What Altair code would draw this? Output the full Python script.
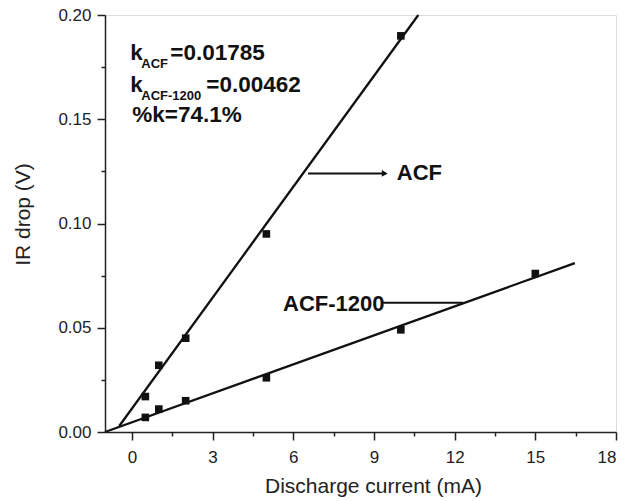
import altair as alt
import pandas as pd

# ---- data ----
acf_current = [0.5, 1, 2, 5, 10]
acf_drop = [0.017, 0.032, 0.045, 0.095, 0.190]
acf1200_current = [0.5, 1, 2, 5, 10, 15]
acf1200_drop = [0.007, 0.011, 0.015, 0.026, 0.049, 0.076]

# fitted straight lines (end points)
acf_fit_x = [-0.47, 10.65]
acf_fit_y = [0.0029, 0.200]
acf1200_fit_x = [-1.0, 16.47]
acf1200_fit_y = [0.0, 0.081]

x_ticks = [0, 3, 6, 9, 12, 15, 18]
x_minor = [1.5, 4.5, 7.5, 10.5, 13.5, 16.5]
y_ticks = [0.0, 0.05, 0.10, 0.15, 0.20]
y_minor = [0.025, 0.075, 0.125, 0.175]

FONT = "Liberation Sans"
XD = [-1, 18]
YD = [0, 0.2]

pts = pd.DataFrame({
    "x": acf_current + acf1200_current,
    "y": acf_drop + acf1200_drop,
    "s": ["ACF"] * len(acf_current) + ["ACF-1200"] * len(acf1200_current),
})
fits = pd.DataFrame({
    "x": acf_fit_x + acf1200_fit_x,
    "y": acf_fit_y + acf1200_fit_y,
    "s": ["ACF"] * 2 + ["ACF-1200"] * 2,
})

xs = alt.Scale(domain=XD, nice=False, zero=False)
ys = alt.Scale(domain=YD, nice=False, zero=False)


def X(axis=None):
    return alt.X("x:Q", scale=xs, axis=axis)


def Y(axis=None):
    return alt.Y("y:Q", scale=ys, axis=axis)


x_axis = alt.Axis(values=x_ticks, orient="bottom", tickSize=8, tickWidth=1.5, tickColor="#222",
                  domainColor="#222", domainWidth=1.5, labelFont=FONT,
                  labelFontSize=17, labelColor="#222", labelPadding=9,
                  grid=False, title="Discharge current (mA)", titleFont=FONT,
                  titleFontSize=21, titleFontWeight="normal", titleColor="#222",
                  titleX=268, titleY=60, titleBaseline="alphabetic")
y_axis = alt.Axis(values=y_ticks, orient="left", format=".2f", tickSize=8, tickWidth=1.5,
                  tickColor="#222", domainColor="#222", domainWidth=1.5,
                  labelFont=FONT, labelFontSize=17, labelColor="#222",
                  labelPadding=6, grid=False, title="IR drop (V)",
                  titleFont=FONT, titleFontSize=21, titleFontWeight="normal",
                  titleColor="#222", titleX=-82, titleY=199, titleAngle=-90,
                  titleAlign="center", titleBaseline="middle")

points = alt.Chart(pts).mark_square(size=58, color="#111", opacity=1).encode(
    x=X(x_axis), y=Y(y_axis),
)

lines = alt.Chart(fits).mark_line(color="#111", strokeWidth=2.3).encode(
    x=X(), y=Y(), detail="s:N"
)

# minor ticks
minor = alt.Chart(pts).mark_point(opacity=0).encode(
    x=X(alt.Axis(values=x_minor, orient="bottom", tickSize=4,
                 tickWidth=1.5, tickColor="#222", labels=False, domain=False, grid=False, title=None)),
    y=Y(alt.Axis(values=y_minor, orient="left", tickSize=4,
                 tickWidth=1.5, tickColor="#222", labels=False, domain=False, grid=False, title=None)),
)

# arrows for the labels
arrows = pd.DataFrame({"x": [6.55, 9.45, 9.3, 12.32], "y": [0.124, 0.124, 0.062, 0.062],
                       "g": ["a", "a", "b", "b"]})
arrow_lines = alt.Chart(arrows).mark_line(color="#111", strokeWidth=2).encode(
    x=X(), y=Y(), detail="g:N")
head = alt.Chart(pd.DataFrame({"x": [9.4], "y": [0.124]})).mark_point(
    shape="triangle-right", filled=True, size=45, color="#111", opacity=1).encode(
    x=X(), y=Y())

labels = pd.DataFrame({"x": [9.85, 5.62], "y": [0.124, 0.0613], "t": ["ACF", "ACF-1200"]})
label_text = alt.Chart(labels).mark_text(font=FONT, fontSize=22, fontWeight="bold",
                                         align="left", baseline="middle", color="#111").encode(
    x=X(), y=Y(), text="t:N")

# k annotation (main text pieces and subscripts)
ax0 = -0.06
big = pd.DataFrame({
    "x": [ax0] * 5,
    "y": [0.1784, 0.1784, 0.1632, 0.1632, 0.1488],
    "t": ["k", "=0.01785", "k", "=0.00462", "%k=74.1%"],
    "dx": [0, 40, 0, 76, 2],
})
small = pd.DataFrame({
    "x": [ax0] * 2,
    "y": [0.1744, 0.1592],
    "t": ["ACF", "ACF-1200"],
    "dx": [11, 11],
})
ktext = []
for df, fs in ((big, 22.5), (small, 13)):
    for _, r in df.iterrows():
        ktext.append(
            alt.Chart(pd.DataFrame([r])).mark_text(
                font=FONT, fontSize=fs, fontWeight="bold", align="left",
                baseline="alphabetic", color="#111", dx=float(r["dx"])).encode(
                x=X(), y=Y(), text="t:N")
        )

chart = alt.layer(points, minor, lines, arrow_lines, head, label_text, *ktext).resolve_axis(
    x="independent", y="independent"
).properties(
    width=511, height=417,
    autosize=alt.AutoSizeParams(type="none"),
    padding={"left": 105, "top": 15, "right": 24, "bottom": 69},
).configure_view(stroke="#777", strokeWidth=1.5).configure(background="white")

chart.save("out.html", embed_options={"renderer": "svg", "actions": False})
